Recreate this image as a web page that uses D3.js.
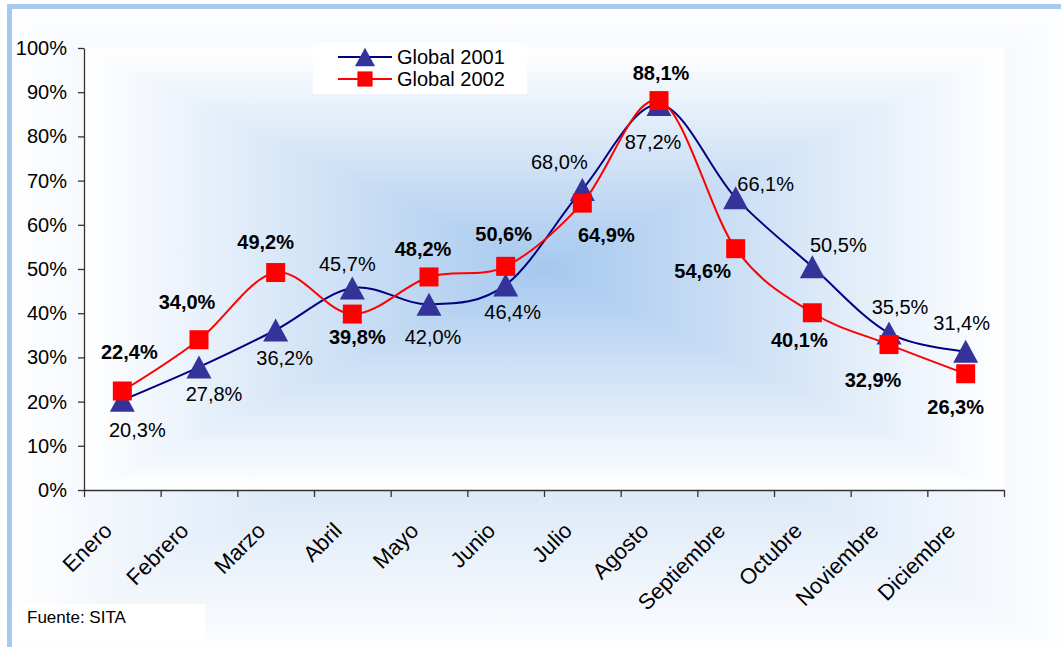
<!DOCTYPE html>
<html>
<head>
<meta charset="utf-8">
<script src="https://cdn.jsdelivr.net/npm/d3@7"></script>
<style>
  body { margin: 0; background: #fff; }
  text { font-family: "Liberation Sans", Arial, sans-serif; fill: #000; }
</style>
</head>
<body>
<svg id="chart" width="1061" height="647"></svg>
<script>
var months = ["Enero", "Febrero", "Marzo", "Abril", "Mayo", "Junio", "Julio",
              "Agosto", "Septiembre", "Octubre", "Noviembre", "Diciembre"];
var global2001 = [20.3, 27.8, 36.2, 45.7, 42.0, 46.4, 68.0, 87.2, 66.1, 50.5, 35.5, 31.4];
var global2002 = [22.4, 34.0, 49.2, 39.8, 48.2, 50.6, 64.9, 88.1, 54.6, 40.1, 32.9, 26.3];
var yTicks = [0, 10, 20, 30, 40, 50, 60, 70, 80, 90, 100];
var seriesNames = ["Global 2001", "Global 2002"];
var sourceText = "Fuente: SITA";

// where each data label sits relative to its point (dx, dy)
var offsets2001 = [[15,30],[15,27],[9,28],[-5,-24],[4,33],[7,27],[-23,-27],[-6,37],[30,-14],[26,-22],[11,-26],[-4,-28]];
var offsets2002 = [[7,-39],[-12,-38],[-10,-31],[5,23],[-6,-28],[-2,-32],[24,32],[2,-28],[-33,22],[-13,27],[-16,35],[-10,33]];

var svg = d3.select("#chart");
var defs = svg.append("defs");
var plot = {left: 84, right: 1004, top: 48, bottom: 490};

// rectangular "from center" gradient made of four triangles
function rectGradient(id, x0, y0, x1, y1, inner, outer){
    var cx = (x0 + x1) / 2, cy = (y0 + y1) / 2;
    var parts = [
        {pts: [[x0,y0],[x1,y0],[cx,cy]], to: [cx, y0]},
        {pts: [[x0,y1],[x1,y1],[cx,cy]], to: [cx, y1]},
        {pts: [[x0,y0],[x0,y1],[cx,cy]], to: [x0, cy]},
        {pts: [[x1,y0],[x1,y1],[cx,cy]], to: [x1, cy]}
    ];
    var g = svg.append("g");
    parts.forEach(function(p, i){
        var gid = id + "_" + i;
        var lg = defs.append("linearGradient").attr("id", gid)
            .attr("gradientUnits", "userSpaceOnUse")
            .attr("x1", cx).attr("y1", cy).attr("x2", p.to[0]).attr("y2", p.to[1]);
        lg.append("stop").attr("offset", 0).attr("stop-color", inner);
        lg.append("stop").attr("offset", 1).attr("stop-color", outer);
        g.append("path")
            .attr("d", "M" + p.pts.join("L") + "Z")
            .attr("fill", "url(#" + gid + ")")
            .attr("stroke", "url(#" + gid + ")")
            .attr("stroke-width", 0.8);
    });
}

// chart area
rectGradient("chartbg", 9, 6, 1075, 660, "#bcd4f1", "#ffffff");
svg.append("path")
    .attr("d", "M9.5,1100V6.5H1100")
    .attr("fill", "none")
    .attr("stroke", "#a8c9ee")
    .attr("stroke-width", 5);

// plot area
rectGradient("plotbg", plot.left, plot.top, plot.right, plot.bottom, "#a6c8ee", "#ffffff");

var y = d3.scaleLinear().domain([0, 100]).range([plot.bottom, plot.top]);
var x = d3.scaleBand().domain(months).range([plot.left, plot.right]);
var xEdges = d3.scaleLinear().domain([0, months.length]).range([plot.left, plot.right]);

var yAxis = svg.append("g")
    .attr("transform", "translate(" + plot.left + ",0)")
    .call(d3.axisLeft(y).tickValues(yTicks).tickSize(6).tickSizeOuter(0).tickPadding(11)
        .tickFormat(function(d){ return d + "%"; }));
yAxis.selectAll("text").style("font-size", "20px");

var xAxis = svg.append("g")
    .attr("transform", "translate(0," + plot.bottom + ")")
    .call(d3.axisBottom(xEdges).tickValues(d3.range(months.length + 1)).tickSize(7).tickSizeOuter(0)
        .tickFormat(""));

svg.selectAll(".domain, .tick line").attr("stroke", "#333").attr("stroke-width", 1.3);

svg.append("g").selectAll("text")
    .data(months)
    .enter().append("text")
    .attr("transform", function(d){
        return "translate(" + (x(d) + x.bandwidth() / 2 - 9) + "," + (plot.bottom + 42) + ") rotate(-45)";
    })
    .attr("text-anchor", "end")
    .style("font-size", "22px")
    .text(function(d){ return d; });

// series
var line = d3.line()
    .x(function(d, i){ return x(months[i]) + x.bandwidth() / 2; })
    .y(function(d){ return y(d); })
    .curve(d3.curveCardinal.tension(0));

var triangle = "M0,-11.5L12.5,11.5L-12.5,11.5Z";
var square = "M-9.5,-9.5H9.5V9.5H-9.5Z";

function drawSeries(values, lineColor, markColor, marker){
    svg.append("path")
        .datum(values)
        .attr("d", line)
        .attr("fill", "none")
        .attr("stroke", lineColor)
        .attr("stroke-width", 2);
    svg.append("g").selectAll("path")
        .data(values)
        .enter().append("path")
        .attr("transform", function(d, i){
            return "translate(" + (x(months[i]) + x.bandwidth() / 2) + "," + y(d) + ")";
        })
        .attr("d", marker)
        .attr("fill", markColor);
}

drawSeries(global2001, "#000080", "#333399", triangle);
drawSeries(global2002, "#ff0000", "#ff0000", square);

function fmt(v){ return d3.format(".1f")(v).replace(".", ",") + "%"; }

function drawLabels(values, offsets, weight){
    svg.append("g").selectAll("text")
        .data(values)
        .enter().append("text")
        .attr("x", function(d, i){ return x(months[i]) + x.bandwidth() / 2 + offsets[i][0]; })
        .attr("y", function(d, i){ return y(d) + offsets[i][1]; })
        .attr("dy", "0.35em")
        .attr("text-anchor", "middle")
        .style("font-size", "20px")
        .style("font-weight", weight)
        .text(fmt);
}
drawLabels(global2001, offsets2001, "normal");
drawLabels(global2002, offsets2002, "bold");

// legend
var legend = svg.append("g");
legend.append("rect")
    .attr("x", 313).attr("y", 43).attr("width", 214).attr("height", 51)
    .attr("fill", "#fff");
var legendRows = legend.selectAll("g")
    .data(seriesNames)
    .enter().append("g")
    .attr("transform", function(d, i){ return "translate(0," + (57 + i * 22) + ")"; });
legendRows.append("line")
    .attr("x1", 338).attr("x2", 392)
    .attr("stroke", function(d, i){ return i === 0 ? "#000080" : "#ff0000"; })
    .attr("stroke-width", 2);
legendRows.append("path")
    .attr("transform", "translate(365,0) scale(0.8)")
    .attr("d", function(d, i){ return i === 0 ? triangle : square; })
    .attr("fill", function(d, i){ return i === 0 ? "#333399" : "#ff0000"; });
legendRows.append("text")
    .attr("x", 397)
    .attr("dy", "0.35em")
    .style("font-size", "20px")
    .text(function(d){ return d; });

// source note
svg.append("rect")
    .attr("x", 12).attr("y", 604).attr("width", 193).attr("height", 40)
    .attr("fill", "#fff");
svg.append("text")
    .attr("x", 27).attr("y", 617)
    .attr("dy", "0.35em")
    .style("font-size", "17px")
    .text(sourceText);
</script>
</body>
</html>
